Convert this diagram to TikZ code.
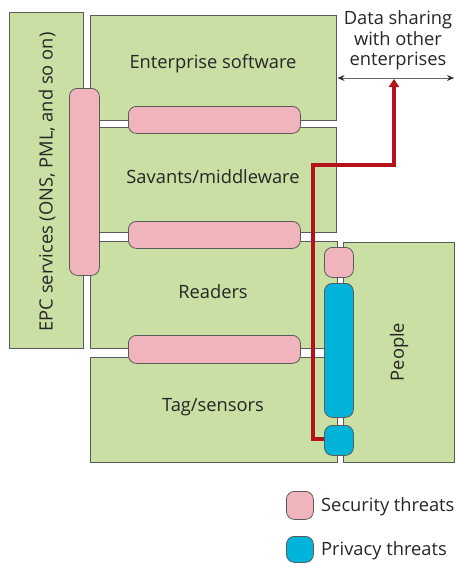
\documentclass[tikz,border=0pt]{standalone}
\usepackage{fontspec}
\setmainfont{Open Sans}
\usetikzlibrary{arrows.meta}
\definecolor{gbox}{HTML}{C9DFA3}
\definecolor{pinkt}{HTML}{F0B5BC}
\definecolor{bluet}{HTML}{00B4D9}
\definecolor{redl}{HTML}{B5121B}
\definecolor{edge}{HTML}{5A5A5A}
\begin{document}
\begin{tikzpicture}[x=1pt,y=-1pt,
  box/.style={draw=edge,fill=gbox,line width=0.8pt,anchor=north west,inner sep=0pt},
  sec/.style={draw=edge,fill=pinkt,line width=0.8pt,rounded corners=8pt,anchor=north west,inner sep=0pt},
  priv/.style={draw=edge,fill=bluet,line width=0.8pt,rounded corners=8pt,anchor=north west,inner sep=0pt},
  lbl/.style={font=\fontsize{18.3}{20.5}\selectfont,text=black!85,inner sep=0pt}]
\useasboundingbox (0,0) rectangle (455,563);
% boxes
\node[box,minimum width=74pt,minimum height=336pt] (epc) at (9,12) {};
\node[box,minimum width=246pt,minimum height=105pt] (ent) at (90,15) {};
\node[box,minimum width=246pt,minimum height=105pt] (sav) at (90,127) {};
\node[box,minimum width=247pt,minimum height=107pt] (rea) at (90,241) {};
\node[box,minimum width=247pt,minimum height=105pt] (tag) at (90,357) {};
\node[box,minimum width=111pt,minimum height=220pt] (ppl) at (343,242) {};
% labels
\node[lbl] (tEnt) at (213,64) {Enterprise software};
\node[lbl] (tSav) at (213,177) {Savants/middleware};
\node[lbl] (tRea) at (213,292) {Readers};
\node[lbl] (tTag) at (213,407) {Tag/sensors};
\node[lbl,rotate=90] (tPpl) at (399,352) {People};
\node[lbl,rotate=90] (tEpc) at (47,182) {EPC services (ONS, PML, and so on)};
% threat bars
\node[sec,minimum width=30pt,minimum height=187pt] (vb) at (69,88) {};
\node[sec,minimum width=172pt,minimum height=27pt] (h1) at (128,106) {};
\node[sec,minimum width=172pt,minimum height=27pt] (h2) at (128,221) {};
\node[sec,minimum width=172pt,minimum height=28pt] (h3) at (128,335) {};
\node[sec,minimum width=29pt,minimum height=30pt] (ps) at (324,247) {};
\node[priv,minimum width=29pt,minimum height=134pt] (pb) at (324,283) {};
\node[priv,minimum width=29pt,minimum height=30pt] (pq) at (324,425) {};
% data sharing
\node[lbl,align=center] (ds) at (398,40.5) {Data sharing\\with other\\enterprises};
\coordinate (dsL) at (337.5,78);
\coordinate (dsR) at (454,78);
\draw[black!60,line width=0.8pt,{Stealth[length=7pt,width=6pt,black!80]}-{Stealth[length=7pt,width=6pt,black!80]}] (dsL) -- (dsR);
% red path
\coordinate (r1) at (313,439);
\coordinate (r2) at (313,165);
\coordinate (r3) at (394,165);
\coordinate (r4) at (394,79);
\draw[redl,line width=3.3pt,-{Triangle[length=8pt,width=10pt]}] (pq.west |- r1) -- (r1) -- (r2) -- (r3) -- (r4);
% legend
\node[sec,minimum width=27pt,minimum height=28pt] (lgS) at (286,491) {};
\node[lbl,anchor=west] (lgSt) at (321,507) {Security threats};
\node[priv,minimum width=27pt,minimum height=26pt] (lgP) at (286,536) {};
\node[lbl,anchor=west] (lgPt) at (321,551) {Privacy threats};
\end{tikzpicture}
\end{document}
